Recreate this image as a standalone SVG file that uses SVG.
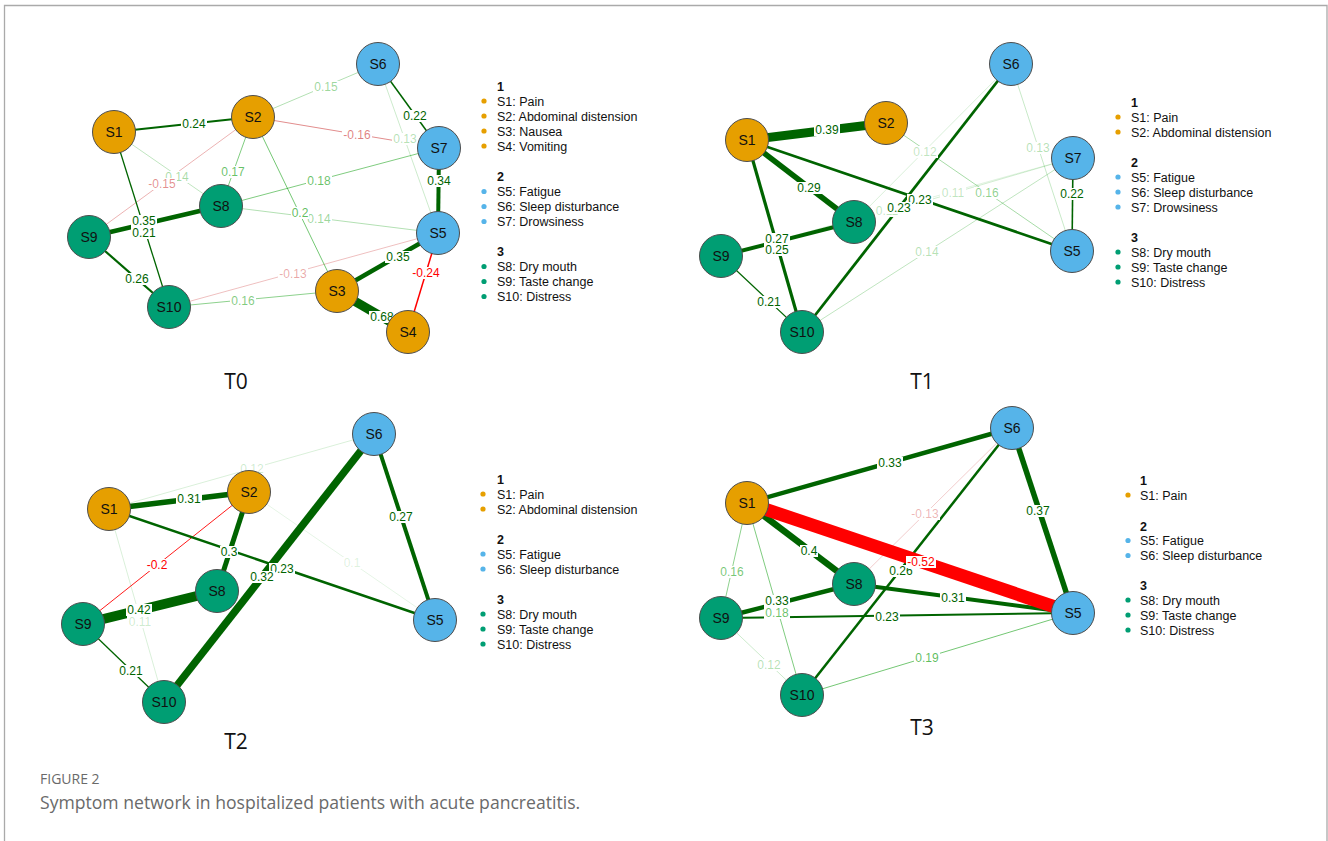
<svg xmlns="http://www.w3.org/2000/svg" width="1328" height="841" viewBox="0 0 1328 841">
<style>
.e line{fill:none}
.d{stroke:#006400}
.w{stroke:#009900}
.r{stroke:#ff0000}
.p{stroke:#bf0000}
.lb rect{fill:#fff}
.lb text{font-family:"Liberation Sans",Arial,sans-serif;font-size:12px;text-anchor:middle}
.ld{fill:#006400}
.lw{fill:#009900}
.lr{fill:#ff0000}
.lp{fill:#bf0000}
.n circle{stroke:#4d4d4d;stroke-width:1}
.n text{font-family:"Liberation Sans",Arial,sans-serif;font-size:14px;text-anchor:middle;fill:#111}
.o{fill:#E69F00}
.b{fill:#56B4E9}
.g{fill:#009E73}
.leg text{font-family:"Liberation Sans",Arial,sans-serif;font-size:12.5px;fill:#111}
.leg .h{font-weight:bold}
.ttl{font-family:"Open Sans","Liberation Sans",sans-serif;font-size:21px;fill:#111;text-anchor:middle}
.cap1{font-family:"Open Sans","Liberation Sans",sans-serif;font-size:14px;fill:#6a6a6a}
.cap2{font-family:"Open Sans","Liberation Sans",sans-serif;font-size:17.6px;fill:#6a6a6a}
</style>

<g id="frame" fill="none" stroke="#aaaaaa" stroke-width="1.3">
<polyline points="4.5,841 4.5,5.5 1327,5.5 1327,841"/>
</g>

<!-- ============ T0 ============ -->
<g id="T0-connectors" class="e">
<line class="w" stroke-opacity=".2" stroke-width="1" x1="378" y1="64" x2="438" y2="233"/>
<line class="w" stroke-opacity=".25" stroke-width="1" x1="114" y1="132" x2="221" y2="206"/>
<line class="w" stroke-opacity=".3" stroke-width="1" x1="221" y1="206" x2="438" y2="233"/>
<line class="p" stroke-opacity=".25" stroke-width="1" x1="169" y1="307" x2="438" y2="233"/>
<line class="p" stroke-opacity=".3" stroke-width="1" x1="253" y1="117" x2="89" y2="237"/>
<line class="w" stroke-opacity=".3" stroke-width="1" x1="253" y1="117" x2="378" y2="64"/>
<line class="p" stroke-opacity=".45" stroke-width="1" x1="253" y1="117" x2="439" y2="148"/>
<line class="w" stroke-opacity=".45" stroke-width="1" x1="169" y1="307" x2="337" y2="291"/>
<line class="w" stroke-opacity=".5" stroke-width="1" x1="253" y1="117" x2="221" y2="206"/>
<line class="w" stroke-opacity=".5" stroke-width="1" x1="439" y1="148" x2="221" y2="206"/>
<line class="w" stroke-opacity=".55" stroke-width="1" x1="253" y1="117" x2="337" y2="291"/>
<line class="d" stroke-width="1.3" x1="114" y1="132" x2="169" y2="307"/>
<line class="d" stroke-width="1.5" x1="378" y1="64" x2="439" y2="148"/>
<line class="d" stroke-width="2" x1="114" y1="132" x2="253" y2="117"/>
<line class="r" stroke-width="1.5" x1="438" y1="233" x2="408" y2="332"/>
<line class="d" stroke-width="2.2" x1="89" y1="237" x2="169" y2="307"/>
<line class="d" stroke-width="4" x1="439" y1="148" x2="438" y2="233"/>
<line class="d" stroke-width="4.5" x1="89" y1="237" x2="221" y2="206"/>
<line class="d" stroke-width="4.5" x1="337" y1="291" x2="438" y2="233"/>
<line class="d" stroke-width="9" x1="337" y1="291" x2="408" y2="332"/>
</g>
<g id="T0-labels" class="lb">
<rect x="392" y="133" width="26" height="12"/><text class="lw" fill-opacity=".3" x="405" y="143.3">0.13</text>
<rect x="164" y="171" width="26" height="12"/><text class="lw" fill-opacity=".35" x="177" y="181.3">0.14</text>
<rect x="306" y="213" width="26" height="12"/><text class="lw" fill-opacity=".4" x="319" y="223.3">0.14</text>
<rect x="278" y="268" width="30" height="12"/><text class="lp" fill-opacity=".35" x="293" y="278.3">-0.13</text>
<rect x="147" y="178" width="30" height="12"/><text class="lp" fill-opacity=".45" x="162" y="188.3">-0.15</text>
<rect x="313" y="81" width="26" height="12"/><text class="lw" fill-opacity=".4" x="326" y="91.3">0.15</text>
<rect x="342" y="129" width="30" height="12"/><text class="lp" fill-opacity=".5" x="357" y="139.3">-0.16</text>
<rect x="230" y="295" width="26" height="12"/><text class="lw" fill-opacity=".5" x="243" y="305.3">0.16</text>
<rect x="220" y="166" width="26" height="12"/><text class="lw" fill-opacity=".6" x="233" y="176.3">0.17</text>
<rect x="306" y="175" width="26" height="12"/><text class="lw" fill-opacity=".6" x="319" y="185.3">0.18</text>
<rect x="291" y="207" width="18" height="12"/><text class="lw" fill-opacity=".65" x="300" y="217.3">0.2</text>
<rect x="131" y="227" width="26" height="12"/><text class="ld" x="144" y="237.3">0.21</text>
<rect x="402" y="110" width="26" height="12"/><text class="ld" x="415" y="120.3">0.22</text>
<rect x="181" y="118" width="26" height="12"/><text class="ld" x="194" y="128.3">0.24</text>
<rect x="411" y="267" width="30" height="12"/><text class="lr" x="426" y="277.3">-0.24</text>
<rect x="124" y="273" width="26" height="12"/><text class="ld" x="137" y="283.3">0.26</text>
<rect x="426" y="175" width="26" height="12"/><text class="ld" x="439" y="185.3">0.34</text>
<rect x="131" y="215" width="26" height="12"/><text class="ld" x="144" y="225.3">0.35</text>
<rect x="385" y="251" width="26" height="12"/><text class="ld" x="398" y="261.3">0.35</text>
<rect x="369" y="311" width="26" height="12"/><text class="ld" x="382" y="321.3">0.68</text>
</g>
<g id="T0-S1" class="n"><circle class="o" cx="114" cy="132" r="21.5"/><text x="114" y="137">S1</text></g>
<g id="T0-S2" class="n"><circle class="o" cx="253" cy="117" r="21.5"/><text x="253" y="122">S2</text></g>
<g id="T0-S3" class="n"><circle class="o" cx="337" cy="291" r="21.5"/><text x="337" y="296">S3</text></g>
<g id="T0-S4" class="n"><circle class="o" cx="408" cy="332" r="21.5"/><text x="408" y="337">S4</text></g>
<g id="T0-S5" class="n"><circle class="b" cx="438" cy="233" r="21.5"/><text x="438" y="238">S5</text></g>
<g id="T0-S6" class="n"><circle class="b" cx="378" cy="64" r="21.5"/><text x="378" y="69">S6</text></g>
<g id="T0-S7" class="n"><circle class="b" cx="439" cy="148" r="21.5"/><text x="439" y="153">S7</text></g>
<g id="T0-S8" class="n"><circle class="g" cx="221" cy="206" r="21.5"/><text x="221" y="211">S8</text></g>
<g id="T0-S9" class="n"><circle class="g" cx="89" cy="237" r="21.5"/><text x="89" y="242">S9</text></g>
<g id="T0-S10" class="n"><circle class="g" cx="169" cy="307" r="21.5"/><text x="169" y="312">S10</text></g>
<g id="T0-legend" class="leg">
<text class="h" x="497" y="90.5">1</text>
<circle class="o" cx="484" cy="101" r="2.6"/><text x="497" y="105.5">S1: Pain</text>
<circle class="o" cx="484" cy="116" r="2.6"/><text x="497" y="120.5">S2: Abdominal distension</text>
<circle class="o" cx="484" cy="131" r="2.6"/><text x="497" y="135.5">S3: Nausea</text>
<circle class="o" cx="484" cy="146" r="2.6"/><text x="497" y="150.5">S4: Vomiting</text>
<text class="h" x="497" y="181">2</text>
<circle class="b" cx="484" cy="191.5" r="2.6"/><text x="497" y="196">S5: Fatigue</text>
<circle class="b" cx="484" cy="206.5" r="2.6"/><text x="497" y="211">S6: Sleep disturbance</text>
<circle class="b" cx="484" cy="221.5" r="2.6"/><text x="497" y="226">S7: Drowsiness</text>
<text class="h" x="497" y="256">3</text>
<circle class="g" cx="484" cy="266.5" r="2.6"/><text x="497" y="271">S8: Dry mouth</text>
<circle class="g" cx="484" cy="281.5" r="2.6"/><text x="497" y="286">S9: Taste change</text>
<circle class="g" cx="484" cy="296.5" r="2.6"/><text x="497" y="301">S10: Distress</text>
</g>
<text id="T0-title" class="ttl" x="236" y="389">T0</text>

<!-- ============ T1 ============ -->
<g id="T1-connectors" class="e">
<line class="w" stroke-opacity=".12" stroke-width="1" x1="721" y1="256" x2="1073" y2="158"/>
<line class="w" stroke-opacity=".18" stroke-width="1" x1="854" y1="222" x2="1073" y2="158"/>
<line class="w" stroke-opacity=".15" stroke-width="1" x1="854" y1="222" x2="1011" y2="64"/>
<line class="w" stroke-opacity=".22" stroke-width="1" x1="1011" y1="64" x2="1072" y2="251"/>
<line class="w" stroke-opacity=".25" stroke-width="1" x1="802" y1="332" x2="1073" y2="158"/>
<line class="w" stroke-opacity=".35" stroke-width="1" x1="886" y1="123" x2="1072" y2="251"/>
<line class="d" stroke-width="1.2" x1="721" y1="256" x2="802" y2="332"/>
<line class="d" stroke-width="1.6" x1="1073" y1="158" x2="1072" y2="251"/>
<line class="d" stroke-width="2.8" x1="747" y1="140" x2="1072" y2="251"/>
<line class="d" stroke-width="2.8" x1="1011" y1="64" x2="802" y2="332"/>
<line class="d" stroke-width="3.2" x1="747" y1="140" x2="802" y2="332"/>
<line class="d" stroke-width="4" x1="721" y1="256" x2="854" y2="222"/>
<line class="d" stroke-width="5.5" x1="747" y1="140" x2="854" y2="222"/>
<line class="d" stroke-width="9" x1="747" y1="140" x2="886" y2="123"/>
</g>
<g id="T1-labels" class="lb">
<rect x="874" y="205" width="26" height="12"/><text class="lw" fill-opacity=".25" x="887" y="215.3">0.11</text>
<rect x="940" y="187" width="26" height="12"/><text class="lw" fill-opacity=".25" x="953" y="197.3">0.11</text>
<rect x="912" y="146" width="26" height="12"/><text class="lw" fill-opacity=".25" x="925" y="156.3">0.12</text>
<rect x="1025" y="142" width="26" height="12"/><text class="lw" fill-opacity=".3" x="1038" y="152.3">0.13</text>
<rect x="914" y="246" width="26" height="12"/><text class="lw" fill-opacity=".3" x="927" y="256.3">0.14</text>
<rect x="974" y="187" width="26" height="12"/><text class="lw" fill-opacity=".45" x="987" y="197.3">0.16</text>
<rect x="756" y="296" width="26" height="12"/><text class="ld" x="769" y="306.3">0.21</text>
<rect x="1059" y="188" width="26" height="12"/><text class="ld" x="1072" y="198.3">0.22</text>
<rect x="907" y="194" width="26" height="12"/><text class="ld" x="920" y="204.3">0.23</text>
<rect x="886" y="202" width="26" height="12"/><text class="ld" x="899" y="212.3">0.23</text>
<rect x="764" y="233" width="26" height="12"/><text class="ld" x="777" y="243.3">0.27</text>
<rect x="764" y="244" width="26" height="12"/><text class="ld" x="777" y="254.3">0.25</text>
<rect x="796" y="182" width="26" height="12"/><text class="ld" x="809" y="192.3">0.29</text>
<rect x="814" y="124" width="26" height="12"/><text class="ld" x="827" y="134.3">0.39</text>
</g>
<g id="T1-S1" class="n"><circle class="o" cx="747" cy="140" r="21.5"/><text x="747" y="145">S1</text></g>
<g id="T1-S2" class="n"><circle class="o" cx="886" cy="123" r="21.5"/><text x="886" y="128">S2</text></g>
<g id="T1-S5" class="n"><circle class="b" cx="1072" cy="251" r="21.5"/><text x="1072" y="256">S5</text></g>
<g id="T1-S6" class="n"><circle class="b" cx="1011" cy="64" r="21.5"/><text x="1011" y="69">S6</text></g>
<g id="T1-S7" class="n"><circle class="b" cx="1073" cy="158" r="21.5"/><text x="1073" y="163">S7</text></g>
<g id="T1-S8" class="n"><circle class="g" cx="854" cy="222" r="21.5"/><text x="854" y="227">S8</text></g>
<g id="T1-S9" class="n"><circle class="g" cx="721" cy="256" r="21.5"/><text x="721" y="261">S9</text></g>
<g id="T1-S10" class="n"><circle class="g" cx="802" cy="332" r="21.5"/><text x="802" y="337">S10</text></g>
<g id="T1-legend" class="leg">
<text class="h" x="1131" y="107">1</text>
<circle class="o" cx="1118" cy="117" r="2.6"/><text x="1131" y="121.5">S1: Pain</text>
<circle class="o" cx="1118" cy="132" r="2.6"/><text x="1131" y="136.5">S2: Abdominal distension</text>
<text class="h" x="1131" y="167">2</text>
<circle class="b" cx="1118" cy="177" r="2.6"/><text x="1131" y="181.5">S5: Fatigue</text>
<circle class="b" cx="1118" cy="192" r="2.6"/><text x="1131" y="196.5">S6: Sleep disturbance</text>
<circle class="b" cx="1118" cy="207" r="2.6"/><text x="1131" y="211.5">S7: Drowsiness</text>
<text class="h" x="1131" y="241.5">3</text>
<circle class="g" cx="1118" cy="252" r="2.6"/><text x="1131" y="256.5">S8: Dry mouth</text>
<circle class="g" cx="1118" cy="267" r="2.6"/><text x="1131" y="271.5">S9: Taste change</text>
<circle class="g" cx="1118" cy="282" r="2.6"/><text x="1131" y="286.5">S10: Distress</text>
</g>
<text id="T1-title" class="ttl" x="922" y="389">T1</text>

<!-- ============ T2 ============ -->
<g id="T2-connectors" class="e">
<line class="w" stroke-opacity=".1" stroke-width="1" x1="249" y1="492" x2="435" y2="620"/>
<line class="w" stroke-opacity=".15" stroke-width="1" x1="109" y1="509" x2="164" y2="702"/>
<line class="w" stroke-opacity=".15" stroke-width="1" x1="109" y1="509" x2="374" y2="434"/>
<line class="r" stroke-opacity=".9" stroke-width="1" x1="249" y1="492" x2="83" y2="624"/>
<line class="d" stroke-width="1.3" x1="83" y1="624" x2="164" y2="702"/>
<line class="d" stroke-width="2.5" x1="109" y1="509" x2="435" y2="620"/>
<line class="d" stroke-width="4" x1="374" y1="434" x2="435" y2="620"/>
<line class="d" stroke-width="5" x1="249" y1="492" x2="217" y2="591"/>
<line class="d" stroke-width="5.5" x1="109" y1="509" x2="249" y2="492"/>
<line class="d" stroke-width="7.5" x1="164" y1="702" x2="374" y2="434"/>
<line class="d" stroke-width="10" x1="83" y1="624" x2="217" y2="591"/>
</g>
<g id="T2-labels" class="lb">
<rect x="343" y="557" width="18" height="12"/><text class="lw" fill-opacity=".15" x="352" y="567.3">0.1</text>
<rect x="239" y="463" width="26" height="12"/><text class="lw" fill-opacity=".2" x="252" y="473.3">0.12</text>
<rect x="146" y="559" width="22" height="12"/><text class="lr" x="157" y="569.3">-0.2</text>
<rect x="118" y="665" width="26" height="12"/><text class="ld" x="131" y="675.3">0.21</text>
<rect x="269" y="563" width="26" height="12"/><text class="ld" x="282" y="573.3">0.23</text>
<rect x="388" y="511" width="26" height="12"/><text class="ld" x="401" y="521.3">0.27</text>
<rect x="220" y="546" width="18" height="12"/><text class="ld" x="229" y="556.3">0.3</text>
<rect x="176" y="493" width="26" height="12"/><text class="ld" x="189" y="503.3">0.31</text>
<rect x="249" y="571" width="26" height="12"/><text class="ld" x="262" y="581.3">0.32</text>
<rect x="127" y="616" width="26" height="12"/><text class="lw" fill-opacity=".2" x="140" y="626.3">0.11</text>
<rect x="126" y="604" width="26" height="12"/><text class="ld" x="139" y="614.3">0.42</text>
</g>
<g id="T2-S1" class="n"><circle class="o" cx="109" cy="509" r="21.5"/><text x="109" y="514">S1</text></g>
<g id="T2-S2" class="n"><circle class="o" cx="249" cy="492" r="21.5"/><text x="249" y="497">S2</text></g>
<g id="T2-S5" class="n"><circle class="b" cx="435" cy="620" r="21.5"/><text x="435" y="625">S5</text></g>
<g id="T2-S6" class="n"><circle class="b" cx="374" cy="434" r="21.5"/><text x="374" y="439">S6</text></g>
<g id="T2-S8" class="n"><circle class="g" cx="217" cy="591" r="21.5"/><text x="217" y="596">S8</text></g>
<g id="T2-S9" class="n"><circle class="g" cx="83" cy="624" r="21.5"/><text x="83" y="629">S9</text></g>
<g id="T2-S10" class="n"><circle class="g" cx="164" cy="702" r="21.5"/><text x="164" y="707">S10</text></g>
<g id="T2-legend" class="leg">
<text class="h" x="497" y="483.5">1</text>
<circle class="o" cx="483" cy="494" r="2.6"/><text x="497" y="498.5">S1: Pain</text>
<circle class="o" cx="483" cy="509" r="2.6"/><text x="497" y="513.5">S2: Abdominal distension</text>
<text class="h" x="497" y="543.5">2</text>
<circle class="b" cx="483" cy="554" r="2.6"/><text x="497" y="558.5">S5: Fatigue</text>
<circle class="b" cx="483" cy="569" r="2.6"/><text x="497" y="573.5">S6: Sleep disturbance</text>
<text class="h" x="497" y="603.5">3</text>
<circle class="g" cx="483" cy="614" r="2.6"/><text x="497" y="618.5">S8: Dry mouth</text>
<circle class="g" cx="483" cy="629" r="2.6"/><text x="497" y="633.5">S9: Taste change</text>
<circle class="g" cx="483" cy="644" r="2.6"/><text x="497" y="648.5">S10: Distress</text>
</g>
<text id="T2-title" class="ttl" x="236" y="749">T2</text>

<!-- ============ T3 ============ -->
<g id="T3-connectors" class="e">
<line class="w" stroke-opacity=".2" stroke-width="1" x1="721" y1="618" x2="802" y2="695"/>
<line class="p" stroke-opacity=".2" stroke-width="1" x1="1012" y1="428" x2="854" y2="584"/>
<line class="w" stroke-opacity=".45" stroke-width="1" x1="747" y1="503" x2="721" y2="618"/>
<line class="w" stroke-opacity=".5" stroke-width="1" x1="747" y1="503" x2="802" y2="695"/>
<line class="w" stroke-opacity=".55" stroke-width="1" x1="802" y1="695" x2="1073" y2="613"/>
<line class="d" stroke-width="2" x1="721" y1="618" x2="1073" y2="613"/>
<line class="d" stroke-width="2.5" x1="1012" y1="428" x2="802" y2="695"/>
<line class="d" stroke-width="4" x1="854" y1="584" x2="1073" y2="613"/>
<line class="d" stroke-width="4.5" x1="721" y1="618" x2="854" y2="584"/>
<line class="d" stroke-width="4.5" x1="747" y1="503" x2="1012" y2="428"/>
<line class="d" stroke-width="5.5" x1="1012" y1="428" x2="1073" y2="613"/>
<line class="d" stroke-width="6.5" x1="747" y1="503" x2="854" y2="584"/>
<line class="r" stroke-width="13" x1="747" y1="503" x2="1073" y2="613"/>
</g>
<g id="T3-labels" class="lb">
<rect x="756" y="659" width="26" height="12"/><text class="lw" fill-opacity=".3" x="769" y="669.3">0.12</text>
<rect x="910" y="508" width="30" height="12"/><text class="lp" fill-opacity=".3" x="925" y="518.3">-0.13</text>
<rect x="719" y="566" width="26" height="12"/><text class="lw" fill-opacity=".55" x="732" y="576.3">0.16</text>
<rect x="914" y="652" width="26" height="12"/><text class="lw" fill-opacity=".65" x="927" y="662.3">0.19</text>
<rect x="874" y="611" width="26" height="12"/><text class="ld" x="887" y="621.3">0.23</text>
<rect x="888" y="565" width="26" height="12"/><text class="ld" x="901" y="575.3">0.26</text>
<rect x="940" y="592" width="26" height="12"/><text class="ld" x="953" y="602.3">0.31</text>
<rect x="764" y="607" width="26" height="12"/><text class="lw" fill-opacity=".6" x="777" y="617.3">0.18</text>
<rect x="764" y="595" width="26" height="12"/><text class="ld" x="777" y="605.3">0.33</text>
<rect x="877" y="457" width="26" height="12"/><text class="ld" x="890" y="467.3">0.33</text>
<rect x="1025" y="505" width="26" height="12"/><text class="ld" x="1038" y="515.3">0.37</text>
<rect x="800" y="545" width="18" height="12"/><text class="ld" x="809" y="555.3">0.4</text>
<rect x="906" y="556" width="30" height="12"/><text class="lr" x="921" y="566.3">-0.52</text>
</g>
<g id="T3-S1" class="n"><circle class="o" cx="747" cy="503" r="21.5"/><text x="747" y="508">S1</text></g>
<g id="T3-S5" class="n"><circle class="b" cx="1073" cy="613" r="21.5"/><text x="1073" y="618">S5</text></g>
<g id="T3-S6" class="n"><circle class="b" cx="1012" cy="428" r="21.5"/><text x="1012" y="433">S6</text></g>
<g id="T3-S8" class="n"><circle class="g" cx="854" cy="584" r="21.5"/><text x="854" y="589">S8</text></g>
<g id="T3-S9" class="n"><circle class="g" cx="721" cy="618" r="21.5"/><text x="721" y="623">S9</text></g>
<g id="T3-S10" class="n"><circle class="g" cx="802" cy="695" r="21.5"/><text x="802" y="700">S10</text></g>
<g id="T3-legend" class="leg">
<text class="h" x="1140" y="485">1</text>
<circle class="o" cx="1128" cy="495" r="2.6"/><text x="1140" y="499.5">S1: Pain</text>
<text class="h" x="1140" y="530.5">2</text>
<circle class="b" cx="1128" cy="540.5" r="2.6"/><text x="1140" y="545">S5: Fatigue</text>
<circle class="b" cx="1128" cy="555.5" r="2.6"/><text x="1140" y="560">S6: Sleep disturbance</text>
<text class="h" x="1140" y="590">3</text>
<circle class="g" cx="1128" cy="600" r="2.6"/><text x="1140" y="604.5">S8: Dry mouth</text>
<circle class="g" cx="1128" cy="615" r="2.6"/><text x="1140" y="619.5">S9: Taste change</text>
<circle class="g" cx="1128" cy="630" r="2.6"/><text x="1140" y="634.5">S10: Distress</text>
</g>
<text id="T3-title" class="ttl" x="922" y="735">T3</text>

<g id="caption">
<text class="cap1" x="40" y="784">FIGURE 2</text>
<text class="cap2" x="40" y="809">Symptom network in hospitalized patients with acute pancreatitis.</text>
</g>
</svg>
